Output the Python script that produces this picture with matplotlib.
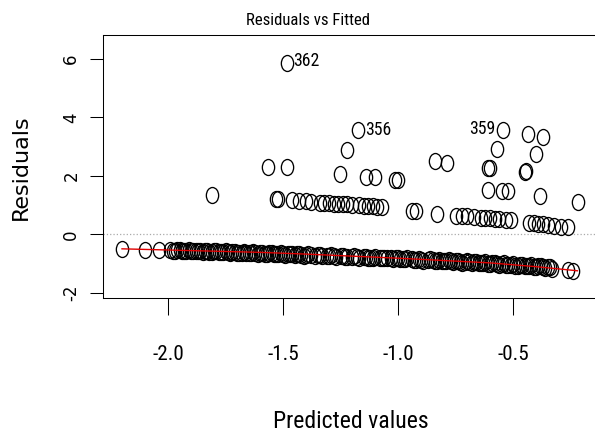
import matplotlib.pyplot as plt
import numpy as np
from matplotlib import font_manager
from matplotlib.path import Path
from matplotlib.transforms import Affine2D

plt.rcParams['axes.unicode_minus'] = False

# the reference text is horizontally squeezed; use a narrow face if there is one
installed = {f.name for f in font_manager.fontManager.ttflist}
if 'Roboto Condensed' in installed:
    narrow, k = ['Roboto Condensed'], 0.95
elif 'Liberation Sans Narrow' in installed:
    narrow, k = ['Liberation Sans Narrow'], 1.0
else:
    narrow, k = ['Liberation Sans'], 0.85
wide = ['DejaVu Sans']

# main band of residuals (fitted, residual)
band_x = [-2.20, -2.10, -2.04,
          -1.99, -1.97, -1.95, -1.93, -1.91, -1.89, -1.87, -1.85, -1.83, -1.81,
          -1.79, -1.77, -1.75, -1.73, -1.71, -1.69, -1.67, -1.65, -1.63, -1.61,
          -1.59, -1.57, -1.55, -1.53, -1.51, -1.49, -1.47, -1.45, -1.43, -1.41,
          -1.39, -1.36, -1.34, -1.31, -1.29, -1.27, -1.24, -1.22, -1.19, -1.17,
          -1.14, -1.12, -1.10, -1.07, -1.05, -1.02, -1.00, -0.98, -0.96, -0.93,
          -0.91, -0.89, -0.86, -0.84, -0.82, -0.80, -0.78, -0.76, -0.74, -0.72,
          -0.70, -0.69, -0.68, -0.66, -0.65, -0.64, -0.62, -0.61, -0.60, -0.58,
          -0.57, -0.56, -0.54, -0.53, -0.52, -0.50, -0.49, -0.48, -0.46, -0.45,
          -0.44, -0.42, -0.41, -0.40, -0.38, -0.37, -0.36, -0.34, -0.33,
          -0.26, -0.24]
band_y = [-0.48, -0.52, -0.54,
          -0.52, -0.56, -0.53, -0.57, -0.54, -0.58, -0.55, -0.59, -0.56, -0.60,
          -0.57, -0.61, -0.58, -0.62, -0.59, -0.63, -0.60, -0.64, -0.61, -0.66,
          -0.62, -0.66, -0.63, -0.68, -0.64, -0.69, -0.65, -0.70, -0.67, -0.72,
          -0.68, -0.73, -0.70, -0.75, -0.71, -0.76, -0.73, -0.78, -0.74, -0.79,
          -0.76, -0.81, -0.77, -0.82, -0.79, -0.84, -0.80, -0.85, -0.82, -0.87,
          -0.83, -0.89, -0.85, -0.91, -0.87, -0.92, -0.88, -0.94, -0.90, -0.96,
          -0.92, -0.95, -0.97, -0.93, -0.98, -0.99, -0.95, -1.00, -1.01, -0.97,
          -1.02, -1.03, -0.99, -1.04, -1.05, -1.01, -1.06, -1.07, -1.03, -1.08,
          -1.09, -1.05, -1.10, -1.11, -1.07, -1.12, -1.15, -1.12, -1.17,
          -1.22, -1.24]

# more points hidden inside the same band
band2_x = [-1.98, -1.96, -1.94, -1.92, -1.90, -1.88, -1.86, -1.84, -1.82, -1.80,
           -1.78, -1.76, -1.74, -1.72, -1.70, -1.68, -1.66, -1.64, -1.62, -1.60,
           -1.58, -1.56, -1.54, -1.52, -1.50, -1.48, -1.46, -1.44, -1.42, -1.40,
           -1.38, -1.35, -1.33, -1.30, -1.28, -1.25, -1.23, -1.20, -1.18, -1.15,
           -1.13, -1.11, -1.08, -1.06, -1.03, -1.01, -0.99, -0.97, -0.94, -0.92,
           -0.90, -0.87, -0.85, -0.83, -0.81, -0.79, -0.77, -0.75, -0.73, -0.71,
           -0.67, -0.63, -0.59, -0.55, -0.51, -0.47, -0.43, -0.39, -0.35]
band2_y = [-0.55, -0.54, -0.56, -0.55, -0.57, -0.56, -0.58, -0.57, -0.59, -0.58,
           -0.60, -0.59, -0.61, -0.61, -0.62, -0.62, -0.63, -0.63, -0.64, -0.63,
           -0.65, -0.64, -0.66, -0.66, -0.67, -0.67, -0.68, -0.68, -0.70, -0.69,
           -0.71, -0.71, -0.73, -0.73, -0.74, -0.75, -0.76, -0.76, -0.77, -0.78,
           -0.79, -0.80, -0.80, -0.81, -0.82, -0.82, -0.83, -0.84, -0.85, -0.86,
           -0.87, -0.87, -0.88, -0.89, -0.90, -0.91, -0.91, -0.92, -0.93, -0.94,
           -0.95, -0.97, -0.99, -1.01, -1.03, -1.05, -1.07, -1.09, -1.11]

# second band
upper_x = [-1.53, -1.52, -1.46, -1.43, -1.40, -1.38, -1.34, -1.32, -1.30, -1.28,
           -1.26, -1.24, -1.22, -1.20, -1.17, -1.15, -1.13, -1.11, -1.09, -1.07,
           -0.94, -0.92, -0.83, -0.75, -0.72, -0.70, -0.67, -0.64, -0.62, -0.60,
           -0.58, -0.56, -0.53, -0.51, -0.43, -0.41, -0.39, -0.37, -0.35, -0.32,
           -0.29, -0.26]
upper_y = [1.20, 1.22, 1.17, 1.15, 1.13, 1.11, 1.07, 1.06, 1.06, 1.05,
           1.05, 1.04, 1.03, 1.02, 1.00, 0.99, 0.98, 0.97, 0.95, 0.93,
           0.82, 0.82, 0.70, 0.64, 0.62, 0.62, 0.60, 0.58, 0.56, 0.55,
           0.53, 0.52, 0.50, 0.49, 0.40, 0.38, 0.37, 0.35, 0.34, 0.30,
           0.27, 0.25]

# scattered large residuals
out_x = [-1.484, -1.173, -0.545, -1.223, -1.564, -1.481, -1.252, -1.139, -1.100,
         -1.013, -0.999, -0.839, -0.786, -1.810, -0.433, -0.368, -0.568, -0.400,
         -0.607, -0.600, -0.448, -0.445, -0.607, -0.549, -0.520, -0.383, -0.216]
out_y = [5.86, 3.58, 3.56, 2.90, 2.32, 2.32, 2.07, 1.96, 1.96,
         1.87, 1.87, 2.50, 2.45, 1.36, 3.42, 3.35, 2.93, 2.76,
         2.27, 2.27, 2.15, 2.17, 1.53, 1.48, 1.48, 1.30, 1.12]

# labelled points
id_labels = ['362', '356', '359']
id_x = [-1.484, -1.173, -0.545]
id_y = [5.86, 3.58, 3.56]

# smoother
smooth_x = [-2.20, -2.00, -1.80, -1.60, -1.40, -1.20, -1.00, -0.80, -0.60, -0.40, -0.22]
smooth_y = [-0.49, -0.53, -0.57, -0.61, -0.67, -0.74, -0.81, -0.89, -0.97, -1.10, -1.24]

xticks = [-2.0, -1.5, -1.0, -0.5]
yticks = [-2, 0, 2, 4, 6]

fig = plt.figure(figsize=(5.95, 4.37), dpi=100)
ax = fig.add_axes([103 / 595, 139 / 437, 494 / 595, 263 / 437])

# image is stretched vertically, so circles are slightly tall ellipses
oval = Path.unit_circle().transformed(Affine2D().scale(1.0, 1.3))
all_x = band_x + band2_x + upper_x + out_x
all_y = band_y + band2_y + upper_y + out_y
ax.plot(all_x, all_y, linestyle='none', marker=oval, ms=11.5,
        mfc='none', mec='black', mew=0.95)

ax.axhline(0, color='#aaaaaa', linestyle=':', lw=0.9, zorder=1)
ax.plot(smooth_x, smooth_y, color='#e00000', lw=1.0, zorder=3)

offsets = [(4.5, 1.2, 'left'), (4.8, 0, 'left'), (-5.5, 1.0, 'right')]
for lab, x, y, (dx, dy, ha) in zip(id_labels, id_x, id_y, offsets):
    ax.annotate(lab, (x, y), xytext=(dx, dy), textcoords='offset points',
                ha=ha, va='center', fontsize=13.5 * k, family=narrow)

ax.set_xlim(-2.2826, -0.135)
ax.set_ylim(-2.171, 6.8205)
ax.set_xticks(xticks, ['%.1f' % v for v in xticks], family=narrow, fontsize=16 * k)
ax.set_yticks(yticks, [str(v) for v in yticks], family=wide, fontsize=12,
              rotation=90, va='center')
ax.tick_params(axis='x', length=12, width=0.75, pad=22.2)
ax.tick_params(axis='y', length=9.5, width=0.75, pad=6.8)
for s in ax.spines.values():
    s.set_linewidth(0.75)

fig.text(308 / 595, 412 / 437, 'Residuals vs Fitted', ha='center', va='baseline',
         fontsize=12.7 * k, family=narrow)
fig.text(350.5 / 595, 9 / 437, 'Predicted values', ha='center', va='baseline',
         fontsize=18 * k, family=narrow)
fig.text(21 / 595, 270 / 437, 'Residuals', ha='center', va='center',
         rotation=90, fontsize=16, family=wide)

fig.savefig('out.png', dpi=100)
